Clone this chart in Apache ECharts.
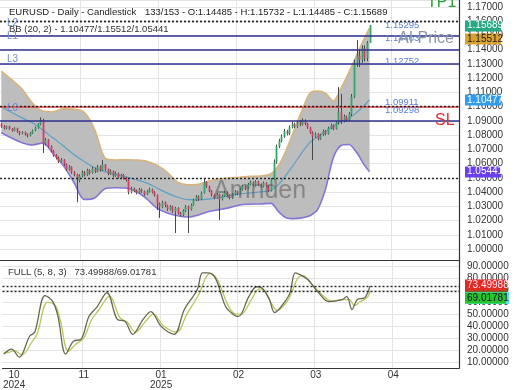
<!DOCTYPE html>
<html><head><meta charset="utf-8">
<script src="https://cdn.jsdelivr.net/npm/echarts/dist/echarts.min.js"></script>
<style>html,body{margin:0;padding:0;background:#fff}#c{width:520px;height:390px}</style>
</head><body><div id="c"></div>
<script>
// ---------- data ----------
const slotCount = 177;
const tickIdx = [4,31,61,91,121,151];
const tickLabels = ['10\n2024','11','01\n2025','02','03','04'];

const opens = [1.0880,1.0862,1.0848,1.0862,1.0845,1.0832,1.0850,1.0826,1.0812,1.0822,
1.0806,1.0798,1.0816,1.0834,1.0852,1.0878,1.0905,1.0742,1.0768,1.0722,
1.0690,1.0660,1.0640,1.0615,1.0628,1.0595,1.0560,1.0578,1.0540,1.0525,
1.0480,1.0515,1.0540,1.0520,1.0555,1.0535,1.0565,1.0545,1.0580,1.0555,
1.0592,1.0560,1.0530,1.0548,1.0515,1.0532,1.0505,1.0522,1.0500,1.0485,
1.0400,1.0425,1.0410,1.0395,1.0420,1.0405,1.0385,1.0405,1.0420,1.0400,
1.0380,1.0320,1.0295,1.0330,1.0305,1.0280,1.0300,1.0265,1.0290,1.0255,
1.0240,1.0270,1.0300,1.0280,1.0310,1.0345,1.0370,1.0350,1.0395,1.0470,
1.0440,1.0410,1.0380,1.0360,1.0385,1.0350,1.0375,1.0400,1.0380,1.0360,
1.0385,1.0405,1.0390,1.0420,1.0440,1.0425,1.0455,1.0470,1.0450,1.0475,
1.0455,1.0440,1.0465,1.0445,1.0410,1.0490,1.0610,1.0720,1.0760,1.0790,
1.0830,1.0810,1.0855,1.0880,1.0860,1.0890,1.0875,1.0905,1.0880,1.0855,
1.0820,1.0790,1.0810,1.0775,1.0800,1.0830,1.0810,1.0850,1.0870,1.0845,
1.0890,1.0960,1.0900,1.0930,1.0905,1.0950,1.1070,1.1310,1.1360,1.1330,
1.1410,1.1340,1.14485];
const closes = [1.0860,1.0848,1.0862,1.0845,1.0832,1.0850,1.0826,1.0812,1.0822,1.0806,
1.0798,1.0816,1.0834,1.0852,1.0878,1.0905,1.0735,1.0768,1.0722,1.0690,
1.0660,1.0640,1.0615,1.0628,1.0595,1.0560,1.0578,1.0540,1.0525,1.0490,
1.0515,1.0540,1.0520,1.0555,1.0535,1.0565,1.0545,1.0580,1.0555,1.0592,
1.0560,1.0530,1.0548,1.0515,1.0532,1.0505,1.0522,1.0500,1.0485,1.0400,
1.0425,1.0410,1.0395,1.0420,1.0405,1.0385,1.0405,1.0420,1.0400,1.0380,
1.0320,1.0295,1.0330,1.0305,1.0280,1.0300,1.0265,1.0290,1.0255,1.0240,
1.0270,1.0300,1.0280,1.0310,1.0345,1.0370,1.0350,1.0395,1.0470,1.0440,
1.0410,1.0380,1.0360,1.0385,1.0350,1.0375,1.0400,1.0380,1.0360,1.0385,
1.0405,1.0390,1.0420,1.0440,1.0425,1.0455,1.0470,1.0450,1.0475,1.0455,
1.0440,1.0465,1.0445,1.0410,1.0490,1.0610,1.0720,1.0760,1.0790,1.0830,
1.0810,1.0855,1.0880,1.0860,1.0890,1.0875,1.0905,1.0880,1.0855,1.0820,
1.0790,1.0810,1.0775,1.0800,1.0830,1.0810,1.0850,1.0870,1.0845,1.0890,
1.0960,1.0900,1.0930,1.0905,1.0950,1.1070,1.1310,1.1360,1.1330,1.1410,
1.1340,1.1448,1.15689];
const highs = [1.0888,1.0870,1.0868,1.0866,1.0850,1.0856,1.0853,1.0830,1.0828,1.0826,
1.0812,1.0822,1.0840,1.0860,1.0885,1.0925,1.0915,1.0780,1.0772,1.0730,
1.0698,1.0668,1.0650,1.0640,1.0632,1.0602,1.0590,1.0582,1.0548,1.0530,
1.0525,1.0552,1.0548,1.0565,1.0562,1.0578,1.0572,1.0592,1.0588,1.0625,
1.0598,1.0566,1.0560,1.0552,1.0545,1.0538,1.0530,1.0528,1.0508,1.0490,
1.0438,1.0432,1.0418,1.0430,1.0426,1.0412,1.0415,1.0432,1.0426,1.0408,
1.0385,1.0328,1.0340,1.0336,1.0312,1.0310,1.0305,1.0298,1.0295,1.0262,
1.0280,1.0310,1.0306,1.0320,1.0355,1.0380,1.0378,1.0405,1.0500,1.0478,
1.0446,1.0416,1.0386,1.0395,1.0390,1.0385,1.0410,1.0406,1.0386,1.0395,
1.0415,1.0410,1.0430,1.0452,1.0446,1.0465,1.0482,1.0476,1.0485,1.0480,
1.0462,1.0475,1.0470,1.0450,1.0500,1.0630,1.0735,1.0775,1.0805,1.0845,
1.0838,1.0868,1.0895,1.0888,1.0900,1.0905,1.0918,1.0912,1.0886,1.0860,
1.0828,1.0820,1.0815,1.0810,1.0840,1.0836,1.0860,1.0882,1.0876,1.0900,
1.1139,1.1090,1.0945,1.0938,1.0962,1.1090,1.1330,1.1468,1.1400,1.1430,
1.1430,1.1460,1.15732];
const lows = [1.0852,1.0840,1.0842,1.0838,1.0825,1.0828,1.0818,1.0800,1.0806,1.0798,
1.0785,1.0792,1.0810,1.0828,1.0846,1.0870,1.0675,1.0728,1.0712,1.0680,
1.0648,1.0630,1.0605,1.0608,1.0585,1.0550,1.0552,1.0530,1.0512,1.0330,
1.0470,1.0505,1.0510,1.0515,1.0525,1.0530,1.0535,1.0540,1.0545,1.0550,
1.0550,1.0520,1.0522,1.0505,1.0508,1.0495,1.0498,1.0490,1.0475,1.0385,
1.0392,1.0400,1.0385,1.0390,1.0396,1.0375,1.0380,1.0398,1.0392,1.0370,
1.0275,1.0220,1.0288,1.0295,1.0270,1.0272,1.0255,1.0114,1.0245,1.0228,
1.0232,1.0262,1.0114,1.0272,1.0305,1.0338,1.0340,1.0345,1.0390,1.0430,
1.0400,1.0370,1.0350,1.0355,1.0205,1.0342,1.0368,1.0372,1.0350,1.0354,
1.0378,1.0380,1.0385,1.0412,1.0415,1.0420,1.0448,1.0440,1.0444,1.0445,
1.0430,1.0434,1.0435,1.0400,1.0405,1.0485,1.0600,1.0710,1.0750,1.0782,
1.0800,1.0802,1.0848,1.0850,1.0852,1.0865,1.0868,1.0870,1.0845,1.0810,
1.0626,1.0782,1.0765,1.0768,1.0795,1.0800,1.0805,1.0842,1.0835,1.0840,
1.0875,1.0880,1.0890,1.0895,1.0898,1.0935,1.1060,1.1280,1.1280,1.1310,
1.1320,1.1320,1.14485];

const bbIdx = [0,4,8,12,16,20,24,28,32,36,40,44,48,52,56,60,64,68,72,76,80,84,88,92,96,100,104,107,110,113,116,119,122,125,128,131,134,137,140,142];
const bbUpper = [1.1250,1.1190,1.1125,1.1026,1.0970,1.0965,1.0985,1.0982,1.0960,1.0840,1.0640,1.0626,1.0628,1.0626,1.0618,1.0590,1.0540,1.0470,1.0452,1.0455,1.0478,1.0492,1.0500,1.0505,1.0512,1.0514,1.0530,1.0590,1.0700,1.0840,1.0975,1.1095,1.1110,1.1095,1.1040,1.1130,1.1240,1.1360,1.1480,1.15512];
const bbMid = [1.1000,1.0960,1.0922,1.0887,1.0837,1.0780,1.0725,1.0665,1.0615,1.0572,1.0545,1.0525,1.0508,1.0488,1.0466,1.0430,1.0394,1.0365,1.0348,1.0347,1.0352,1.0362,1.0375,1.0388,1.0395,1.0402,1.0414,1.0455,1.0525,1.0600,1.0680,1.0750,1.0790,1.0828,1.0865,1.0895,1.0918,1.0960,1.1010,1.10477];
const bbLower = [1.0818,1.0780,1.0748,1.0732,1.0746,1.0672,1.0585,1.0470,1.0350,1.0360,1.0425,1.0432,1.0430,1.0405,1.0355,1.0289,1.0255,1.0235,1.0226,1.0240,1.0265,1.0278,1.0292,1.0311,1.0316,1.0318,1.0322,1.0262,1.0220,1.0215,1.0220,1.0235,1.0280,1.0420,1.0640,1.0728,1.0735,1.0680,1.0590,1.05441];

const stochKIdx = [0,3,6,10,12,16,19,21,24,27,30,33,36,40,44,47,50,54,57,61,66,70,75,77,79,82,86,89,91,95,98,100,103,105,109,111,113,115,118,122,126,131,133,135,137,140,142];
const stochK = [16.6,20.7,14,31.5,34.8,65.4,60.4,48,16.6,27.4,29,48,55.5,67.9,45.5,43.9,33.1,45.5,52.1,39.7,33.1,53.8,70.3,84.4,84.4,80.2,56.3,49.7,48,64.5,72.8,72,62,51.3,60.4,67.9,84.4,82.7,78.6,67.9,60.4,62,64.5,53.8,62,63.7,73.49988];
const stochDIdx = [0,2,4,7,11,13,17,20,22,25,28,31,34,37,41,45,48,51,55,58,62,67,71,76,78,80,83,87,90,92,96,99,101,104,106,110,112,114,116,119,123,127,132,134,136,138,141,142];
const stochD = [17.5,18,19.5,16,27,34,60,57,44,19,25,30,45,54,65,47,43,35,44,50,40,35,50,68,79,84,78,57,50,50,62,71,70,58,53,61,70,80,82,76,67,61,62,62,57,60,64,69.01781];

const levelValues = [1.15295,1.14403,1.12752,1.09298];
const levelTexts = ['1.15295','1.14403','1.12752','1.09298'];
const levelNames = ['L2','L1','L3','L0'];
const stopLoss = 1.09911;
const lastClose = 1.15689;
const bbNow = [1.10477,1.15512,1.05441]; // mid/upper/lower
const stochNow = [73.49988,69.01781];

// ---------- chart ----------
const FONT = '"Liberation Sans", Arial, sans-serif';
const chart = echarts.init(document.getElementById('c'), null, {renderer:'canvas'});
const cats = Array.from({length: slotCount}, (_, i) => String(i));
const labelAt = i => tickIdx.indexOf(i) >= 0;
const gridAt = i => i >= 31 && (i - 31) % 30 === 0;
const candleData = closes.map((c, i) => [i, opens[i], c, lows[i], highs[i]]);
const pair = (idx, vals) => idx.map((k, j) => [k, vals[j]]);

const dashed = {color:'#222', width:1.4, type:[2,2]};
const navy = {color:'#2e2f8e', width:1.5, type:'solid'};

const option = {
  animation: false,
  backgroundColor: '#fff',
  grid: [
    {left:0, right:61, top:0, height:260, show:false},
    {left:0, right:61, top:260, height:109, show:false}
  ],
  xAxis: [
    {type:'category', gridIndex:0, data:cats, boundaryGap:true,
     axisLine:{show:true, lineStyle:{color:'#333', width:1}}, axisTick:{show:false}, axisLabel:{show:false},
     splitLine:{show:true, interval:(i)=>gridAt(i), lineStyle:{color:'#e4e4e4'}}},
    {type:'category', gridIndex:1, data:cats, boundaryGap:true,
     axisLine:{show:true, lineStyle:{color:'#333', width:1.2}}, axisTick:{show:false},
     axisLabel:{show:true, interval:(i)=>labelAt(i), formatter:(v, i)=>{const k = tickIdx.indexOf(Number(v)); return k>=0 ? tickLabels[k] : '';},
       color:'#333', fontSize:10, lineHeight:10, margin:2, fontFamily:FONT},
     splitLine:{show:true, interval:(i)=>gridAt(i), lineStyle:{color:'#e4e4e4'}}}
  ],
  yAxis: [
    {type:'value', gridIndex:0, position:'right', min:0.99245, max:1.17491, splitNumber:18,
     axisLine:{show:true, lineStyle:{color:'#333', width:1.2}}, axisTick:{show:false},
     axisLabel:{color:'#333', fontSize:10, margin:8, fontFamily:FONT, showMinLabel:false, showMaxLabel:false, formatter:v=>v.toFixed(5)},
     splitLine:{show:true, lineStyle:{color:'#e4e4e4'}}},
    {type:'value', gridIndex:1, position:'right', min:5, max:95.1, splitNumber:9,
     axisLine:{show:true, lineStyle:{color:'#333', width:1.2}}, axisTick:{show:false},
     axisLabel:{color:'#333', fontSize:10, margin:8, fontFamily:FONT, showMinLabel:false, showMaxLabel:false, formatter:v=>v.toFixed(5)},
     splitLine:{show:true, lineStyle:{color:'#e4e4e4'}}}
  ],
  series: [
    {type:'line', name:'bbBase', xAxisIndex:0, yAxisIndex:0, stack:'bb', data:pair(bbIdx, bbLower),
     symbol:'none', smooth:0.3, lineStyle:{opacity:0}, silent:true, z:1},
    {type:'line', name:'bbBand', xAxisIndex:0, yAxisIndex:0, stack:'bb', data:bbIdx.map((k,j)=>[k, bbUpper[j]-bbLower[j]]),
     symbol:'none', smooth:0.3, lineStyle:{opacity:0}, areaStyle:{color:'#bdbdbd', opacity:1}, silent:true, z:1},
    {type:'line', name:'bbUpper', xAxisIndex:0, yAxisIndex:0, data:pair(bbIdx, bbUpper), symbol:'none', smooth:0.3,
     lineStyle:{color:'#d6b47c', width:1.6}, z:2},
    {type:'line', name:'bbLower', xAxisIndex:0, yAxisIndex:0, data:pair(bbIdx, bbLower), symbol:'none', smooth:0.3,
     lineStyle:{color:'#8474d6', width:1.6}, z:2},
    {type:'line', name:'bbMid', xAxisIndex:0, yAxisIndex:0, data:pair(bbIdx, bbMid), symbol:'none', smooth:0.3,
     lineStyle:{color:'#5d9fc4', width:1.2}, z:2,
     markLine:{silent:true, symbol:['none','none'], label:{show:false}, animation:false,
       data:[
         ...levelValues.map(v => ({yAxis:v, lineStyle:navy})),
         {yAxis:stopLoss, lineStyle:{color:'#e0443f', width:1.5, type:'solid'}},
         {yAxis:lastClose, lineStyle:dashed},
         ...bbNow.map(v => ({yAxis:v, lineStyle:dashed}))
       ]}},
    {type:'custom', name:'candles', xAxisIndex:0, yAxisIndex:0, data:candleData, z:4,
     encode:{x:0, y:[1,2,3,4]},
     renderItem:(params, api) => {
       const x = api.value(0), o = api.value(1), c = api.value(2), l = api.value(3), h = api.value(4);
       const po = api.coord([x, o]), pc = api.coord([x, c]), pl = api.coord([x, l]), ph = api.coord([x, h]);
       const w = Math.max(1.6, api.size([1, 0])[0] * 0.7);
       const cx = Math.round(po[0]) + 0.5;
       const top = Math.min(po[1], pc[1]);
       const bh = Math.max(1, Math.abs(po[1] - pc[1]));
       return {type:'group', children:[
         {type:'line', shape:{x1:cx, y1:ph[1], x2:cx, y2:pl[1]}, style:{stroke:'#474747', lineWidth:1}},
         {type:'rect', shape:{x:cx - w/2, y:top, width:w, height:bh}, style:{fill: c >= o ? '#2fa66a' : '#d93b68'}}
       ]};
     }},
    {type:'line', name:'K', xAxisIndex:1, yAxisIndex:1, data:pair(stochKIdx, stochK), symbol:'none', smooth:0.35,
     lineStyle:{color:'#6a6552', width:1.3}, z:3,
     markLine:{silent:true, symbol:['none','none'], label:{show:false},
       data: stochNow.map(v => ({yAxis:v, lineStyle:dashed}))}},
    {type:'line', name:'D', xAxisIndex:1, yAxisIndex:1, data:pair(stochDIdx, stochD), symbol:'none', smooth:0.35,
     lineStyle:{color:'#b8c65a', width:1.3}, z:2}
  ]
};
chart.setOption(option);

// ---------- annotations (positions from the library's scales) ----------
const py = v => chart.convertToPixel({yAxisIndex:0}, v);
const ps = v => chart.convertToPixel({yAxisIndex:1}, v);
function txt(text, x, y, size, color, extra) {
  return Object.assign({type:'text', x:x, y:y, z:50,
    style:{text:text, fill:color, font: size + 'px ' + FONT, textVerticalAlign:'middle', verticalAlign:'middle', textAlign:'left', align:'left'}}, extra || {});
}
function tag(text, y, bg, fg, w) {
  return [
    {type:'rect', z:60, shape:{x:465, y:Math.round(y) - 5.5, width:w, height:11}, style:{fill:bg}},
    txt(text, 467, y, 10, fg, {z:61})
  ];
}
const g = [];
g.push(txt('EURUSD - Daily - Candlestick', 9, 12, 9.5, '#222'));
g.push(txt('133/153 - O:1.14485 - H:1.15732 - L:1.14485 - C:1.15689', 145, 12, 9.5, '#222'));
g.push(txt('BB (20, 2) - 1.10477/1.15512/1.05441', 9, 29, 9.5, '#333'));
levelValues.forEach((v, k) => {
  g.push(txt(levelTexts[k], 385, py(v) - 6, 9.5, '#5b7fd6'));
  g.push(txt(levelNames[k], 7, py(v) - 8, 10, '#6b8bd0'));
});
g.push(txt('1.09911', 385, py(stopLoss) - 6, 9.5, '#5b7fd6'));
g.push(txt('AI Price', 398, py(levelValues[1]) - 5, 16, '#8d96a8'));
g.push(txt('SL', 435, py(stopLoss) + 13, 16, '#e0302f'));
g.push(txt('TP1', 427, 3, 16, '#2d9f3a'));
g.push(txt('Amnden', 213, 191, 25, 'rgba(90,90,90,0.55)', {z:5}));
g.push(txt('FULL (5, 8, 3)   73.49988/69.01781', 8, 272, 9.5, '#333'));
g.push(...tag('1.15689', py(lastClose), '#26a882', '#fff', 36));
g.push(...tag('1.15512', py(bbNow[1]) + 11, '#d9a032', '#222', 36));
g.push(...tag('1.10477', py(bbNow[0]), '#2f9cf0', '#fff', 36));
g.push(...tag('1.05441', py(bbNow[2]), '#6a40ee', '#fff', 36));
g.push({type:'rect', z:58, shape:{x:465, y:Math.round(ps(stochNow[0])) - 4, width:43, height:13}, style:{fill:'#8a5a22'}});
g.push(...tag('73.49988', ps(stochNow[0]) - 1, '#e02a22', '#fde', 41));
g.push({type:'rect', z:58, shape:{x:465, y:Math.round(ps(stochNow[1])) + 1, width:44, height:12}, style:{fill:'#5de0e0'}});
g.push(...tag('69.01781', ps(stochNow[1]) + 6.5, '#27c42a', '#113', 41));
chart.setOption({graphic: g});
</script>
</body></html>
